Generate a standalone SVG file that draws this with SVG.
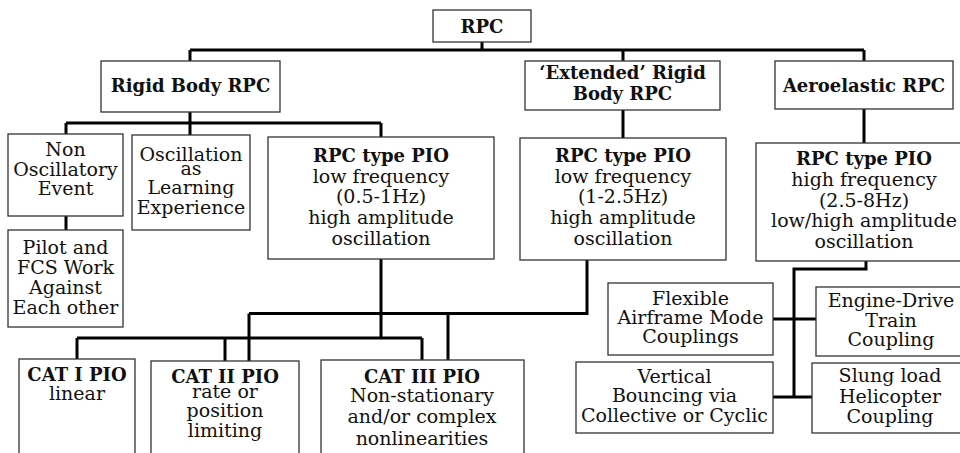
<svg xmlns="http://www.w3.org/2000/svg" width="960" height="453" viewBox="0 0 960 453">
<style>
.b{fill:#fff;stroke:#333;stroke-width:1.3}
text{font-family:"DejaVu Serif","Liberation Serif",serif;font-size:19px;fill:#111;text-anchor:middle}
.t{font-weight:bold;font-size:18px}
.c{fill:none;stroke:#000;stroke-width:3}
</style>
<rect width="960" height="453" fill="#fff"/>
<g id="connectors">
<path class="c" d="M482,42V50M190,50H864M190,50V61M623,50V61M864,50V61"/>
<path class="c" d="M190,112V123M66,123H381M66,123V134M190,123V135M381,123V137"/>
<path class="c" d="M66,216V230M623,110V138M864,109V143"/>
<path class="c" d="M381,259V338M77,338H422M77,338V359M225,338V361M422,338V360"/>
<path class="c" d="M587,260V313.5H249M249,313.5V361M448,313.5V360"/>
<path class="c" d="M866,260V269H794V397M773,319H816M773,397H812"/>
</g>
<g id="rpc"><rect class="b" x="433" y="10" width="98" height="32"/><text class="t" x="482" y="33">RPC</text></g>
<g id="rigid"><rect class="b" x="101" y="61" width="179" height="51"/><text class="t" x="190.5" y="92">Rigid Body RPC</text></g>
<g id="extended"><rect class="b" x="525" y="61" width="195" height="49"/><text class="t" x="622.5" y="79">‘Extended’ Rigid</text><text class="t" x="622.5" y="100">Body RPC</text></g>
<g id="aero"><rect class="b" x="775" y="61" width="178" height="48"/><text class="t" x="864" y="92">Aeroelastic RPC</text></g>
<g id="nonosc"><rect class="b" x="8" y="134" width="115" height="82"/><text x="65.5" y="156">Non</text><text x="65.5" y="176">Oscillatory</text><text x="65.5" y="195">Event</text></g>
<g id="pilot"><rect class="b" x="8" y="230" width="115" height="97"/><text x="65.5" y="254">Pilot and</text><text x="65.5" y="274">FCS Work</text><text x="65.5" y="294">Against</text><text x="65.5" y="314">Each other</text></g>
<g id="learning"><rect class="b" x="132" y="135" width="118" height="95"/><text x="191" y="161">Oscillation</text><text x="191" y="175">as</text><text x="191" y="194">Learning</text><text x="191" y="214">Experience</text></g>
<g id="pio1"><rect class="b" x="268" y="137" width="226" height="122"/><text class="t" x="381" y="162">RPC type PIO</text><text x="381" y="183">low frequency</text><text x="381" y="203">(0.5-1Hz)</text><text x="381" y="224">high amplitude</text><text x="381" y="245">oscillation</text></g>
<g id="pio2"><rect class="b" x="520" y="138" width="206" height="122"/><text class="t" x="623" y="162">RPC type PIO</text><text x="623" y="183">low frequency</text><text x="623" y="203">(1-2.5Hz)</text><text x="623" y="224">high amplitude</text><text x="623" y="245">oscillation</text></g>
<g id="pio3"><rect class="b" x="756" y="143" width="215" height="118"/><text class="t" x="864" y="165">RPC type PIO</text><text x="864" y="186">high frequency</text><text x="864" y="207">(2.5-8Hz)</text><text x="864" y="227">low/high amplitude</text><text x="864" y="248">oscillation</text></g>
<g id="cat1"><rect class="b" x="19" y="359" width="116" height="100"/><text class="t" x="77" y="381">CAT I PIO</text><text x="77" y="400">linear</text></g>
<g id="cat2"><rect class="b" x="151" y="361" width="148" height="100"/><text class="t" x="225" y="383">CAT II PIO</text><text x="225" y="398">rate or</text><text x="225" y="417">position</text><text x="225" y="437">limiting</text></g>
<g id="cat3"><rect class="b" x="321" y="360" width="203" height="100"/><text class="t" x="422" y="383">CAT III PIO</text><text x="422" y="402">Non-stationary</text><text x="422" y="423">and/or complex</text><text x="422" y="445">nonlinearities</text></g>
<g id="flexible"><rect class="b" x="608" y="283" width="165" height="72"/><text x="690.5" y="305">Flexible</text><text x="690.5" y="324">Airframe Mode</text><text x="690.5" y="343">Couplings</text></g>
<g id="engine"><rect class="b" x="816" y="287" width="160" height="69"/><text x="891" y="307">Engine-Drive</text><text x="891" y="327">Train</text><text x="891" y="346">Coupling</text></g>
<g id="vertical"><rect class="b" x="576" y="362" width="197" height="71"/><text x="674.5" y="383">Vertical</text><text x="674.5" y="402">Bouncing via</text><text x="674.5" y="422">Collective or Cyclic</text></g>
<g id="slung"><rect class="b" x="812" y="363" width="160" height="70"/><text x="890" y="382">Slung load</text><text x="890" y="403">Helicopter</text><text x="890" y="423">Coupling</text></g>
</svg>
